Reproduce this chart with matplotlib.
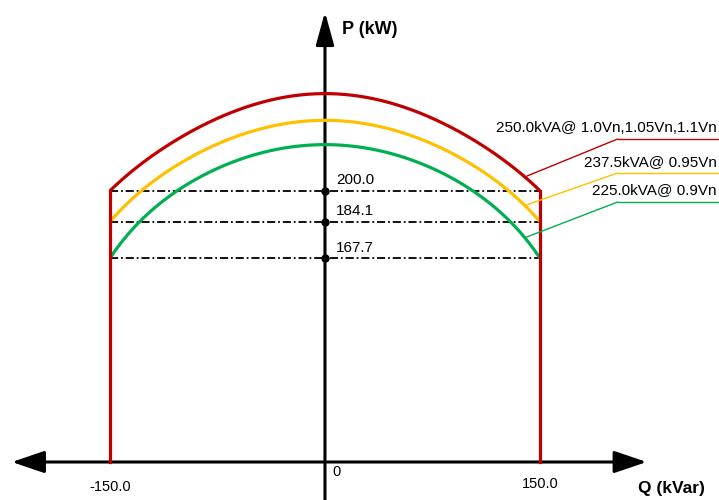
import numpy as np
import matplotlib
matplotlib.use("Agg")
import matplotlib.pyplot as plt

plt.rcParams['font.family'] = ['Liberation Sans', 'DejaVu Sans']

# capability data
q_limit = 150.0
s_ratings = [250.0, 237.5, 225.0]
s_labels = ["250.0kVA@ 1.0Vn,1.05Vn,1.1Vn", "237.5kVA@ 0.95Vn", "225.0kVA@ 0.9Vn"]
colors = ["#C00000", "#FFC000", "#00B050"]
p_at_limit = [200.0, 184.1, 167.7]

# the sketch is not to scale: the P axis is stretched, so build a smooth
# monotone mapping P -> screen units from the levels
p_knots = np.array([167.7, 184.1, 200.0, 225.0, 237.5, 250.0])
px_knots = np.array([204.0, 240.0, 272.0, 316.0, 343.0, 368.0])
coef = np.polyfit(p_knots, px_knots, 3)
lo, hi = 150.0, 260.0
f_lo, f_hi = np.polyval(coef, lo), np.polyval(coef, hi)
d_hi = np.polyval(np.polyder(coef), hi)

def fwd(p):
    p = np.asarray(p, dtype=float)
    mid = np.polyval(coef, np.clip(p, lo, hi))
    return np.where(p < lo, p * f_lo / lo, np.where(p > hi, f_hi + (p - hi) * d_hi, mid))

grid = np.linspace(-200, 600, 8001)
grid_px = fwd(grid)

def inv(v):
    return np.interp(v, grid_px, grid)

fig = plt.figure(figsize=(7.19, 5.0), dpi=100)
ax = fig.add_axes([0, 0, 1, 1])
ax.set_yscale('function', functions=(fwd, inv))
ax.set_xlim(-226.8, 275.0)
ax.set_ylim(inv(-38), inv(462))
ax.axis('off')

# axes with arrows
ax.annotate("", xy=(0.0, 0.976), xycoords=('data', 'axes fraction'),
            xytext=(0.0, 0.0), textcoords=('data', 'axes fraction'),
            arrowprops=dict(arrowstyle="-|>,head_length=2.0,head_width=0.55", color="black", lw=2.2,
                            shrinkA=0, shrinkB=0))
ax.annotate("", xy=(-218.5, 0), xytext=(224.5, 0),
            arrowprops=dict(arrowstyle="<|-|>,head_length=2.0,head_width=0.68", color="black", lw=2.2,
                            shrinkA=0, shrinkB=0))

# rating arcs and the red boundary
q = np.linspace(-q_limit, q_limit, 400)
for s, c in zip(s_ratings, colors):
    ax.plot(q, np.sqrt(s**2 - q**2), color=c, lw=2.3, solid_capstyle='butt', zorder=3)
ax.plot([-q_limit, -q_limit], [0, p_at_limit[0]], color=colors[0], lw=2.3, zorder=3)
ax.plot([q_limit, q_limit], [0, p_at_limit[0]], color=colors[0], lw=2.3, zorder=3)

# dash-dot levels and markers
for p in p_at_limit:
    ax.plot([-q_limit, q_limit], [p, p], color="black", lw=1.3, ls=(0, (4.5, 1.6, 1.0, 1.6)), zorder=2)
    ax.plot(0, p, 'o', color="black", ms=5, zorder=5)
    ax.annotate(f"{p:.1f}", xy=(0, p), xytext=(8, 2.5), textcoords='offset points',
                fontsize=11, ha='left', va='bottom')

# leader lines and rating labels
knee_y = [0.722, 0.654, 0.596]
text_y = [0.744, 0.676, 0.62]
q_lead = 139.5
for s, c, lab, ky, ty in zip(s_ratings, colors, s_labels, knee_y, text_y):
    ax.annotate("", xy=(q_lead, np.sqrt(s**2 - q_lead**2)), xytext=(0.859, ky),
                textcoords='axes fraction',
                arrowprops=dict(arrowstyle="-", color=c, lw=1.0, shrinkA=0, shrinkB=0))
    ax.plot([0.859, 1.0], [ky, ky], color=c, lw=1.0, transform=ax.transAxes)
    ax.text(0.997, ty, lab, transform=ax.transAxes, ha='right', va='center', fontsize=11)

# tick labels and axis titles
ax.text(-150, inv(-25), "-150.0", ha='center', va='center', fontsize=10.5)
ax.text(150, inv(-22), "150.0", ha='center', va='center', fontsize=10.5)
ax.text(5, inv(-10), "0", ha='left', va='center', fontsize=10.5)
ax.text(12, 0.94, "P (kW)", transform=ax.get_xaxis_transform(), ha='left', va='center',
        fontsize=13, fontweight='bold')
ax.text(0.98, 0.024, "Q (kVar)", transform=ax.transAxes, ha='right', va='center',
        fontsize=12.5, fontweight='bold')

fig.savefig("out.png", dpi=100)
